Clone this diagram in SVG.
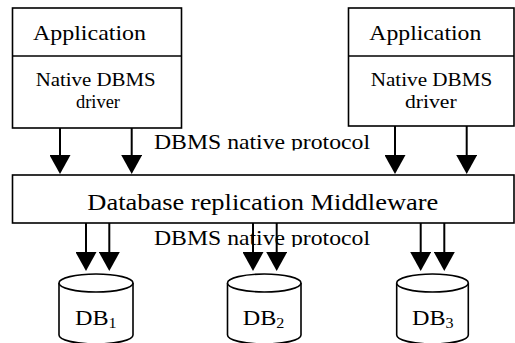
<svg xmlns="http://www.w3.org/2000/svg" width="515" height="343" viewBox="0 0 515 343">
<style>
.box{fill:#fff;stroke:#000;stroke-width:1.6}
.ln{stroke:#000;stroke-width:2;fill:none}
.arr{stroke:#000;stroke-width:2;fill:none;marker-end:url(#ah)}
text{font-family:"Liberation Serif","Times New Roman",serif;fill:#000}
</style>
<defs>
<marker id="ah" markerUnits="userSpaceOnUse" viewBox="0 -10.5 19 21" refX="1" refY="0" markerWidth="19" markerHeight="21" orient="auto">
<path d="M0,-10.5 L19,0 L0,10.5 z" fill="#000"/>
</marker>
<clipPath id="c1"><rect x="140" y="125" width="240" height="25.5"/></clipPath>
<clipPath id="c2"><rect x="140" y="224" width="240" height="23"/></clipPath>
</defs>
<g id="app1">
<rect class="box" x="12.5" y="8" width="169" height="120"/>
<line class="ln" x1="12.5" y1="56" x2="181.5" y2="56" style="stroke-width:1.6"/>
<text x="33" y="40" font-size="21" textLength="113" lengthAdjust="spacingAndGlyphs">Application</text>
<text x="35.7" y="86" font-size="18" textLength="120" lengthAdjust="spacingAndGlyphs">Native DBMS</text>
<text x="76" y="108" font-size="18" textLength="44" lengthAdjust="spacingAndGlyphs">driver</text>
</g>
<g id="app2">
<rect class="box" x="348.5" y="8" width="165.5" height="118"/>
<line class="ln" x1="348.5" y1="56" x2="514" y2="56" style="stroke-width:1.6"/>
<text x="369.3" y="40" font-size="21" textLength="112" lengthAdjust="spacingAndGlyphs">Application</text>
<text x="370.7" y="86" font-size="18" textLength="121.6" lengthAdjust="spacingAndGlyphs">Native DBMS</text>
<text x="405" y="108" font-size="18" textLength="51.7" lengthAdjust="spacingAndGlyphs">driver</text>
</g>
<g id="proto1" clip-path="url(#c1)">
<text x="154" y="149" font-size="21" textLength="216" lengthAdjust="spacingAndGlyphs">DBMS native protocol</text>
</g>
<g id="middleware">
<rect class="box" x="12.5" y="175" width="501.5" height="48"/>
<text x="87.3" y="210" font-size="24" textLength="351" lengthAdjust="spacingAndGlyphs">Database replication Middleware</text>
</g>
<g id="proto2" clip-path="url(#c2)">
<text x="154" y="245" font-size="21" textLength="216" lengthAdjust="spacingAndGlyphs">DBMS native protocol</text>
</g>
<g id="db1">
<path class="box" d="M59,283 L59,335 A37,9 0 0 0 133,335 L133,283"/>
<ellipse class="box" cx="96" cy="283" rx="37" ry="9"/>
<text x="75" y="325" font-size="21" textLength="41.7" lengthAdjust="spacingAndGlyphs">DB<tspan font-size="14" dy="3">1</tspan></text>
</g>
<g id="db2">
<path class="box" d="M227.5,283 L227.5,335 A36.75,9 0 0 0 301,335 L301,283"/>
<ellipse class="box" cx="264.25" cy="283" rx="36.75" ry="9"/>
<text x="242.7" y="325" font-size="21" textLength="41.7" lengthAdjust="spacingAndGlyphs">DB<tspan font-size="14" dy="3">2</tspan></text>
</g>
<g id="db3">
<path class="box" d="M396.7,283 L396.7,335 A35.8,9 0 0 0 468.3,335 L468.3,283"/>
<ellipse class="box" cx="432.5" cy="283" rx="35.8" ry="9"/>
<text x="412" y="325" font-size="21" textLength="41.7" lengthAdjust="spacingAndGlyphs">DB<tspan font-size="14" dy="3">3</tspan></text>
</g>
<g id="connectors">
<line class="arr" x1="60" y1="128" x2="60" y2="156"/>
<line class="arr" x1="131.7" y1="128" x2="131.7" y2="156"/>
<line class="arr" x1="395" y1="126" x2="395" y2="156"/>
<line class="arr" x1="466.7" y1="126" x2="466.7" y2="156"/>
<line class="arr" x1="86" y1="223" x2="86" y2="253"/>
<line class="arr" x1="109.3" y1="223" x2="109.3" y2="253"/>
<line class="arr" x1="253" y1="223" x2="253" y2="253"/>
<line class="arr" x1="276.7" y1="223" x2="276.7" y2="253"/>
<line class="arr" x1="420.7" y1="223" x2="420.7" y2="253"/>
<line class="arr" x1="444.3" y1="223" x2="444.3" y2="253"/>
</g>
</svg>
